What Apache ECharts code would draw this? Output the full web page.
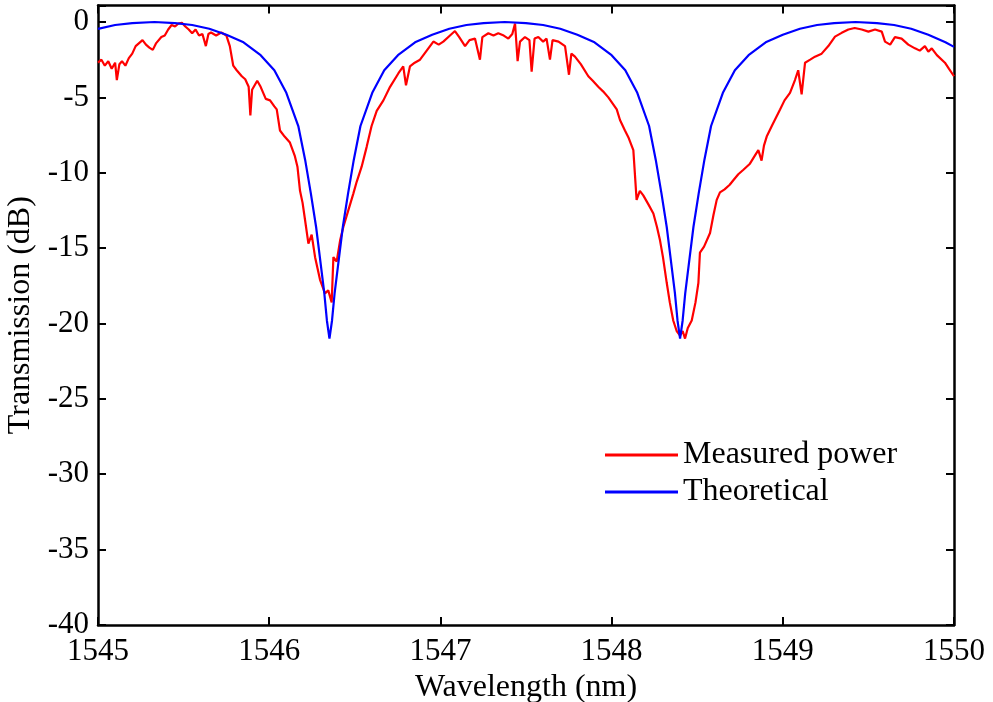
<!DOCTYPE html>
<html>
<head>
<meta charset="utf-8">
<script src="https://cdn.jsdelivr.net/npm/echarts@6/dist/echarts.min.js"></script>
<style>
html, body { margin: 0; padding: 0; background: #fff; }
#main { width: 993px; height: 702px; }
</style>
</head>
<body>
<div id="main"></div>
<script>
var measWave = [
    1545.000, 1545.020, 1545.040, 1545.060, 1545.080, 1545.100, 1545.110, 1545.125, 1545.140, 1545.160,
    1545.180, 1545.200, 1545.220, 1545.240, 1545.260, 1545.280, 1545.300, 1545.320, 1545.340, 1545.370,
    1545.390, 1545.410, 1545.430, 1545.450, 1545.470, 1545.490, 1545.510, 1545.530, 1545.550, 1545.570,
    1545.590, 1545.610, 1545.630, 1545.645, 1545.660, 1545.690, 1545.720, 1545.750, 1545.770, 1545.790,
    1545.810, 1545.840, 1545.860, 1545.880, 1545.890, 1545.900, 1545.930, 1545.950, 1545.980, 1546.005,
    1546.030, 1546.044, 1546.063, 1546.090, 1546.121, 1546.150, 1546.165, 1546.180, 1546.195, 1546.209,
    1546.229, 1546.248, 1546.268, 1546.297, 1546.326, 1546.345, 1546.355, 1546.365, 1546.375, 1546.394,
    1546.414, 1546.433, 1546.462, 1546.491, 1546.511, 1546.540, 1546.569, 1546.598, 1546.628, 1546.667,
    1546.706, 1546.755, 1546.783, 1546.799, 1546.822, 1546.850, 1546.881, 1546.920, 1546.959, 1546.990,
    1547.017, 1547.056, 1547.085, 1547.110, 1547.144, 1547.170, 1547.202, 1547.231, 1547.245, 1547.280,
    1547.310, 1547.338, 1547.370, 1547.397, 1547.420, 1547.436, 1547.451, 1547.465, 1547.494, 1547.520,
    1547.533, 1547.550, 1547.572, 1547.600, 1547.620, 1547.640, 1547.655, 1547.690, 1547.728, 1547.751,
    1547.765, 1547.786, 1547.820, 1547.864, 1547.890, 1547.922, 1547.950, 1547.981, 1548.030, 1548.049,
    1548.078, 1548.100, 1548.127, 1548.146, 1548.165, 1548.185, 1548.215, 1548.244, 1548.265, 1548.283,
    1548.300, 1548.322, 1548.340, 1548.360, 1548.380, 1548.400, 1548.415, 1548.429, 1548.445, 1548.468,
    1548.490, 1548.507, 1548.516, 1548.540, 1548.575, 1548.595, 1548.614, 1548.633, 1548.660, 1548.690,
    1548.711, 1548.740, 1548.770, 1548.808, 1548.835, 1548.857, 1548.876, 1548.890, 1548.906, 1548.940,
    1548.984, 1549.010, 1549.042, 1549.071, 1549.090, 1549.110, 1549.130, 1549.160, 1549.188, 1549.227,
    1549.266, 1549.305, 1549.344, 1549.383, 1549.420, 1549.461, 1549.500, 1549.539, 1549.578, 1549.597,
    1549.627, 1549.655, 1549.694, 1549.733, 1549.772, 1549.800, 1549.830, 1549.850, 1549.870, 1549.900,
    1549.947, 1549.970, 1550.000
];
var measDb = [
    -2.7, -2.5, -2.9, -2.6, -3.1, -2.7, -3.85, -2.8, -2.6, -2.9,
    -2.4, -2.1, -1.6, -1.4, -1.2, -1.5, -1.7, -1.85, -1.4, -1.0,
    -0.9, -0.5, -0.2, -0.3, -0.1, -0.05, -0.3, -0.5, -0.75, -0.5,
    -0.9, -0.8, -1.6, -0.8, -0.7, -0.9, -0.7, -0.9, -1.6, -2.9,
    -3.2, -3.6, -3.8, -4.3, -6.2, -4.5, -3.9, -4.3, -5.1, -5.2,
    -5.6, -5.8, -7.2, -7.6, -8.0, -8.9, -9.6, -11.2, -12.0, -13.1,
    -14.7, -14.1, -15.6, -17.1, -18.0, -17.8, -18.2, -18.6, -15.6, -15.9,
    -14.5, -13.6, -12.5, -11.4, -10.6, -9.6, -8.3, -6.9, -5.9, -5.2,
    -4.3, -3.4, -2.95, -4.2, -2.95, -2.7, -2.5, -1.9, -1.3, -1.5,
    -1.3, -0.9, -0.6, -1.0, -1.6, -1.2, -1.1, -2.5, -1.0, -0.75,
    -0.9, -0.75, -0.9, -1.1, -0.8, -0.1, -2.6, -1.3, -1.0, -1.2,
    -3.3, -1.1, -1.0, -1.3, -1.1, -2.5, -1.2, -1.3, -1.6, -3.5,
    -2.1, -2.3, -2.8, -3.6, -3.9, -4.3, -4.6, -5.0, -5.8, -6.5,
    -7.2, -7.7, -8.5, -11.8, -11.2, -11.5, -12.1, -12.7, -13.6, -14.5,
    -15.6, -17.3, -18.6, -19.8, -20.5, -20.8, -20.5, -21.0, -20.3, -19.8,
    -18.6, -17.3, -15.3, -14.9, -14.0, -12.8, -11.8, -11.3, -11.1, -10.8,
    -10.5, -10.1, -9.8, -9.4, -8.9, -8.5, -9.2, -8.2, -7.6, -6.8,
    -5.8, -5.2, -4.7, -3.85, -3.2, -4.8, -2.7, -2.5, -2.3, -2.1,
    -1.6, -0.97, -0.72, -0.5, -0.4, -0.5, -0.64, -0.5, -0.64, -1.3,
    -1.5, -1.0, -1.1, -1.5, -1.75, -1.9, -1.6, -1.97, -1.75, -2.2,
    -2.7, -3.1, -3.6
];

var theoWave = [
    1545.00, 1545.10, 1545.20, 1545.33, 1545.45, 1545.55, 1545.65, 1545.75, 1545.85, 1545.95,
    1546.03, 1546.10, 1546.17, 1546.21, 1546.243, 1546.274, 1546.298, 1546.322, 1546.337, 1546.352,
    1546.367, 1546.382, 1546.406, 1546.43, 1546.461, 1546.494, 1546.533, 1546.602, 1546.672, 1546.752,
    1546.852, 1546.952, 1547.052, 1547.152, 1547.252, 1547.376, 1547.50, 1547.60, 1547.70, 1547.80,
    1547.90, 1548.00, 1548.08, 1548.15, 1548.219, 1548.258, 1548.291, 1548.322, 1548.346, 1548.37,
    1548.385, 1548.40, 1548.415, 1548.43, 1548.454, 1548.478, 1548.509, 1548.542, 1548.581, 1548.65,
    1548.72, 1548.80, 1548.90, 1549.00, 1549.10, 1549.20, 1549.30, 1549.425, 1549.55, 1549.65,
    1549.75, 1549.85, 1549.95, 1550.00
];
var theoDb = [
    -0.46, -0.2, -0.07, 0, -0.07, -0.2, -0.45, -0.85, -1.35, -2.2,
    -3.2, -4.7, -6.9, -9.15, -11.35, -13.6, -15.8, -18.0, -19.8, -21.0,
    -19.8, -18.0, -15.8, -13.6, -11.35, -9.15, -6.9, -4.7, -3.2, -2.2,
    -1.35, -0.85, -0.45, -0.2, -0.07, 0, -0.07, -0.2, -0.45, -0.85,
    -1.35, -2.2, -3.2, -4.7, -6.9, -9.15, -11.35, -13.6, -15.8, -18.0,
    -19.8, -21.0, -19.8, -18.0, -15.8, -13.6, -11.35, -9.15, -6.9, -4.7,
    -3.2, -2.2, -1.35, -0.85, -0.45, -0.2, -0.07, 0, -0.07, -0.2,
    -0.45, -0.85, -1.35, -1.65
];

var xTicks = [1545, 1546, 1547, 1548, 1549, 1550];

function zip(xs, ys) {
    var res = [];
    for (var i = 0; i < xs.length; i++) {
        res.push([xs[i], ys[i]]);
    }
    return res;
}

var myChart = echarts.init(document.getElementById('main'));
var serif = 'Liberation Serif';
var frame = { onZero: false, lineStyle: { color: '#000', width: 2.5 } };
var ticks = { inside: true, length: 8, lineStyle: { color: '#000', width: 2 } };

var option = {
    animation: false,
    backgroundColor: '#fff',
    grid: { left: 98, right: 39, top: 5.4, bottom: 77, outerBoundsMode: 'none', containLabel: false },
    legend: {
        orient: 'vertical',
        left: 600,
        top: 434,
        itemWidth: 73,
        itemHeight: 3,
        itemGap: 5,
        icon: 'rect',
        textStyle: { fontFamily: serif, fontSize: 32, color: '#000' },
        data: ['Measured power', 'Theoretical']
    },
    xAxis: [{
        type: 'value',
        min: xTicks[0],
        max: xTicks[xTicks.length - 1],
        interval: 1,
        position: 'bottom',
        name: 'Wavelength (nm)',
        nameLocation: 'middle',
        nameGap: 46,
        nameTextStyle: { fontFamily: serif, fontSize: 32, color: '#000' },
        axisLine: frame,
        axisTick: ticks,
        axisLabel: {
            fontFamily: serif, fontSize: 31, color: '#000', margin: 11,
            showMinLabel: true, showMaxLabel: true,
            formatter: function (v) { return String(v); }
        },
        splitLine: { show: false }
    }, {
        type: 'value',
        min: xTicks[0],
        max: xTicks[xTicks.length - 1],
        interval: 1,
        position: 'top',
        axisLine: frame,
        axisTick: ticks,
        axisLabel: { show: false },
        splitLine: { show: false }
    }],
    yAxis: [{
        type: 'value',
        min: -40,
        max: 1.1,
        interval: 5,
        position: 'left',
        name: 'Transmission (dB)',
        nameLocation: 'middle',
        nameGap: 58,
        nameTextStyle: { fontFamily: serif, fontSize: 32, color: '#000' },
        axisLine: frame,
        axisTick: ticks,
        axisLabel: {
            fontFamily: serif, fontSize: 31, color: '#000', margin: 9,
            formatter: function (v) { return v % 5 === 0 ? String(v) : ''; }
        },
        splitLine: { show: false }
    }, {
        type: 'value',
        min: -40,
        max: 1.1,
        interval: 5,
        position: 'right',
        axisLine: frame,
        axisTick: ticks,
        axisLabel: { show: false },
        splitLine: { show: false }
    }],
    series: [{
        name: 'Measured power',
        type: 'line',
        showSymbol: false,
        color: '#ff0000',
        lineStyle: { color: '#ff0000', width: 2.2 },
        data: zip(measWave, measDb)
    }, {
        name: 'Theoretical',
        type: 'line',
        showSymbol: false,
        color: '#0000ff',
        lineStyle: { color: '#0000ff', width: 2.2 },
        data: zip(theoWave, theoDb)
    }]
};

myChart.setOption(option);
</script>
</body>
</html>
